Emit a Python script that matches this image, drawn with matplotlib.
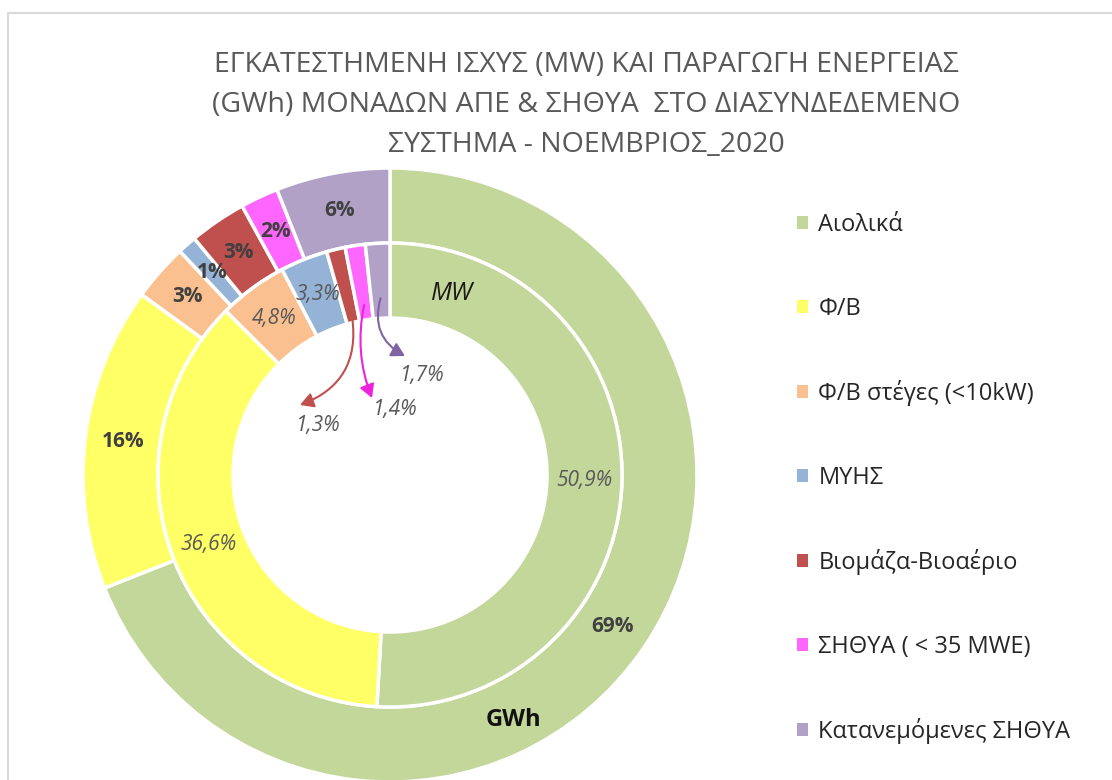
import matplotlib
matplotlib.use("Agg")
import matplotlib.pyplot as plt
import numpy as np
from matplotlib.patches import Patch, Rectangle

# categories and shares (%)
labels = ["Αιολικά", "Φ/Β", "Φ/Β στέγες (<10kW)", "ΜΥΗΣ", "Βιομάζα-Βιοαέριο",
          "ΣΗΘΥΑ ( < 35 MWE)", "Κατανεμόμενες ΣΗΘΥΑ"]
gwh_pct = [69, 16, 3, 1, 3, 2, 6]          # outer ring, energy
mw_pct = [50.9, 36.6, 4.8, 3.3, 1.3, 1.4, 1.7]  # inner ring, capacity
colors = ["#C4D79B", "#FFFF66", "#FAC090", "#95B3D7", "#C0504D", "#FF66FF", "#B2A1C7"]
arrow_colors = ["#C0504D", "#EE22DD", "#8064A2"]

title = "ΕΓΚΑΤΕΣΤΗΜΕΝΗ ΙΣΧΥΣ (MW) ΚΑΙ ΠΑΡΑΓΩΓΗ ΕΝΕΡΓΕΙΑΣ\n(GWh) ΜΟΝΑΔΩΝ ΑΠΕ & ΣΗΘΥΑ  ΣΤΟ ΔΙΑΣΥΝΔΕΔΕΜΕΝΟ\nΣΥΣΤΗΜΑ - ΝΟΕΜΒΡΙΟΣ_2020"

def fmt(v):
    return ("%.1f%%" % v).replace(".", ",")

fig = plt.figure(figsize=(11.12, 7.8), dpi=100)
ax = fig.add_axes([0, 0, 1, 1])

cx, cy = 390, 305
r_out, r_mid, ring = 307, 232, 75

wp = dict(width=ring, edgecolor="white", linewidth=2.5)
outer, _ = ax.pie(gwh_pct, radius=r_out, center=(cx, cy), startangle=90,
                  counterclock=False, colors=colors, wedgeprops=wp)
inner, _ = ax.pie(mw_pct, radius=r_mid, center=(cx, cy), startangle=90,
                  counterclock=False, colors=colors, wedgeprops=wp)

def mid_point(w, r):
    a = np.deg2rad((w.theta1 + w.theta2) / 2)
    return cx + r * np.cos(a), cy + r * np.sin(a)

# outer labels
for w, v in zip(outer, gwh_pct):
    x, y = mid_point(w, r_out - ring / 2)
    ax.text(x, y, "%d%%" % v, ha="center", va="center", fontsize=15,
            fontweight="bold", color="#404040", family="Open Sans")

# inner labels (big slices)
for w, v in zip(inner[:4], mw_pct[:4]):
    x, y = mid_point(w, r_mid - ring / 2)
    ax.text(x, y, fmt(v), ha="center", va="center", fontsize=15,
            style="italic", color="#595959", family="Open Sans")

# small slices with arrows
text_pos = [(318, 355), (395, 370), (422, 404)]
head_off = [(-18, 20), (-23, 12), (-17, 20)]
tail_r = [r_mid - ring + 5, r_mid - ring + 15, r_mid - ring + 20]
rads = [-0.4, 0.15, 0.4]
for w, v, tp, ho, tr, c, rd in zip(inner[4:], mw_pct[4:], text_pos, head_off,
                                   tail_r, arrow_colors, rads):
    x0, y0 = mid_point(w, tr)
    ax.annotate("", xy=(tp[0] + ho[0], tp[1] + ho[1]), xytext=(x0, y0),
                arrowprops=dict(arrowstyle="-|>,head_width=0.45,head_length=0.8",
                                color=c, lw=1.5, shrinkA=0, shrinkB=0,
                                connectionstyle="arc3,rad=%s" % rd))
    ax.text(tp[0], tp[1], fmt(v), ha="center", va="center", fontsize=15,
            style="italic", color="#595959", family="Open Sans")

ax.text(452, 780 - 293, "MW", ha="center", va="center", fontsize=18,
        style="italic", color="#1a1a1a", family="Open Sans")
ax.text(513, 780 - 720, "GWh", ha="center", va="center", fontsize=17,
        fontweight="bold", color="#111111", family="Open Sans")

ax.set_xlim(0, 1112)
ax.set_ylim(0, 780)
ax.set_aspect("auto")
ax.axis("off")

# title
fig.text(586 / 1112, 1 - 105 / 780, title, ha="center", va="center",
         fontsize=20.5, color="#595959", linespacing=1.55, family="Open Sans")

# legend
handles = [Patch(facecolor=c, edgecolor="none") for c in colors]
fig.legend(handles, labels, loc="upper left", bbox_to_anchor=(776 / 1112, 1 - 192 / 780),
           frameon=False, handlelength=0.47, handleheight=0.47,
           handletextpad=0.42, labelspacing=2.52, prop=dict(family="Open Sans", size=17),
           labelcolor="#262626")

# chart frame border
fig.patches.append(Rectangle((8 / 1112, -0.1), 1.2, 1 - 13 / 780 + 0.1,
                             transform=fig.transFigure, fill=False,
                             edgecolor="#D9D9D9", linewidth=1.5))

fig.savefig("out.png", dpi=100)
